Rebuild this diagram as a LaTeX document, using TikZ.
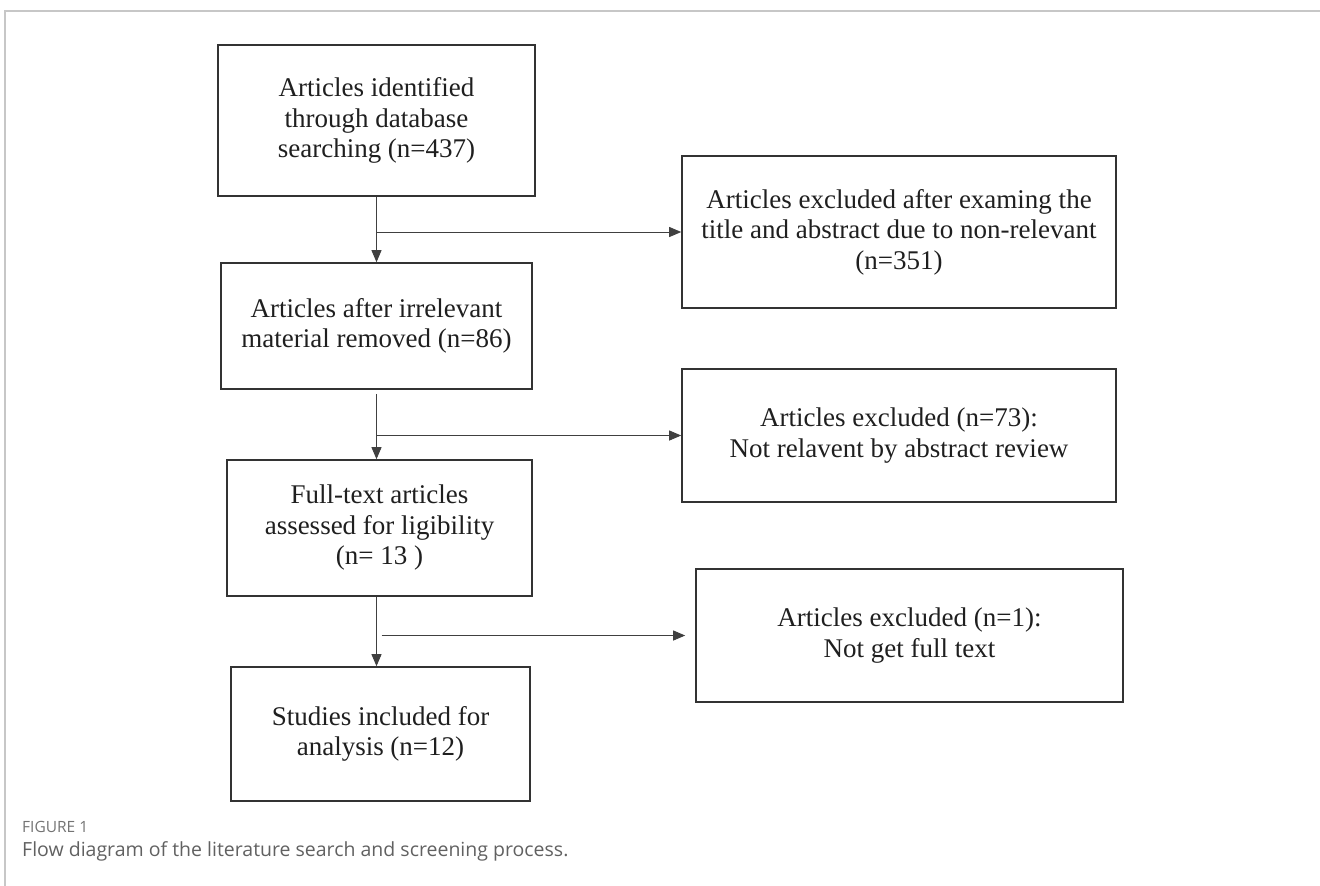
\documentclass[tikz,border=0pt]{standalone}
\usepackage{fontspec}
\setmainfont{Liberation Serif}
\newfontfamily\capfont{Open Sans}
\usetikzlibrary{arrows.meta,positioning}
\begin{document}
\begin{tikzpicture}[
  x=1pt, y=-1pt,
  box/.style={draw=black!80, line width=1.6pt, align=center, inner sep=0pt,
              text=black!88, font=\fontsize{27}{30.5}\selectfont},
  arrow/.style={-{Triangle[length=12pt,width=10pt]}, line width=0.9pt, draw=black!75}
]
\useasboundingbox (0,0) rectangle (1320,886);
% frame of the figure
\draw[black!22, line width=1.2pt] (1320,11) -- (5,11) -- (5,886);
\node[box, minimum width=317pt, minimum height=151pt] (ident) at (376.5,120.5)
  {Articles identified\\through database\\searching (n=437)};
\node[box, minimum width=311pt, minimum height=126pt] (after) at (376.5,326)
  {Articles after irrelevant\\material removed (n=86)};
\node[box, minimum width=305pt, minimum height=136pt] (full) at (379.5,528)
  {Full-text articles\\assessed for ligibility\\(n= 13 )};
\node[box, minimum width=299pt, minimum height=134pt] (incl) at (380.5,734)
  {Studies included for\\analysis (n=12)};
\node[box, minimum width=434pt, minimum height=152pt] (excla) at (899,232)
  {Articles excluded after examing the\\title and abstract due to non-relevant\\(n=351)};
\node[box, minimum width=434pt, minimum height=133pt] (exclb) at (899,435.5)
  {Articles excluded (n=73):\\Not relavent by abstract review};
\node[box, minimum width=427pt, minimum height=133pt] (exclc) at (909.5,635.5)
  {Articles excluded (n=1):\\Not get full text};
\coordinate (bra) at (ident.south |- excla.west);
\coordinate (brb) at (after.south |- exclb.west);
\coordinate (brc) at (ident.south |- exclc.west);
\draw[arrow] (ident.south) -- (after.north);
\draw[arrow] (bra) -- (excla.west);
\draw[arrow, shorten <=4pt] (after.south) -- (after.south |- full.north);
\draw[arrow] (brb) -- (exclb.west);
\draw[arrow] (ident.south |- full.south) -- (ident.south |- incl.north);
\draw[arrow, shorten <=5pt, shorten >=10pt] (brc) -- (exclc.west);
% caption
\node[anchor=base west, inner sep=0pt, text=black!55, font=\capfont\fontsize{15.5}{18}\selectfont]
  (fig) at (22,832) {FIGURE 1};
\node[anchor=base west, inner sep=0pt, text=black!62, font=\capfont\fontsize{19.5}{23}\selectfont]
  (cap) at (22,856) {Flow diagram of the literature search and screening process.};
\end{tikzpicture}
\end{document}
